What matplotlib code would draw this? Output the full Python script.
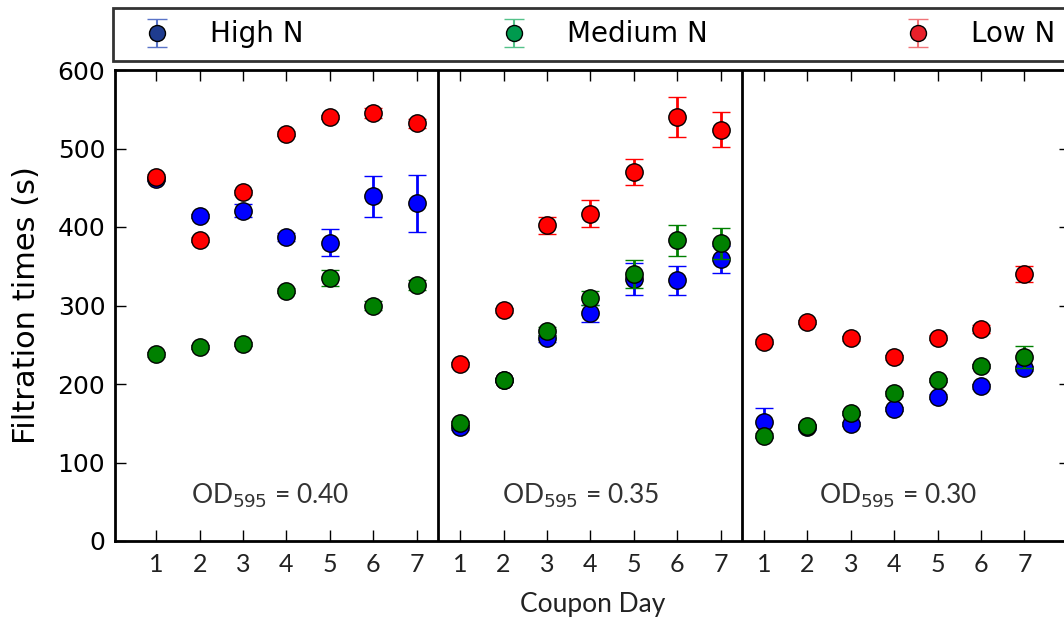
import numpy as np
import matplotlib
matplotlib.use("Agg")
import matplotlib.pyplot as plt

# ---- data ----
days = [1, 2, 3, 4, 5, 6, 7]
panel_labels = [r"OD$_{595}$ = 0.40", r"OD$_{595}$ = 0.35", r"OD$_{595}$ = 0.30"]
series_names = ["High N", "Medium N", "Low N"]

high_p1 = [461, 414, 421, 387, 380, 439, 430]
high_p1_err = [3, 3, 8, 5, 17, 26, 36]
high_p2 = [145, 205, 258, 290, 334, 332, 359]
high_p2_err = [3, 3, 5, 11, 20, 18, 17]
high_p3 = [151, 145, 149, 168, 184, 197, 220]
high_p3_err = [19, 3, 3, 3, 3, 3, 3]

med_p1 = [238, 247, 251, 319, 335, 300, 326]
med_p1_err = [3, 3, 3, 3, 10, 6, 6]
med_p2 = [150, 205, 268, 310, 340, 383, 379]
med_p2_err = [3, 3, 5, 9, 18, 20, 20]
med_p3 = [134, 146, 163, 188, 205, 223, 234]
med_p3_err = [3, 3, 3, 3, 3, 3, 14]

low_p1 = [464, 384, 444, 519, 540, 545, 532]
low_p1_err = [3, 3, 3, 3, 3, 6, 6]
low_p2 = [225, 294, 402, 417, 470, 540, 524]
low_p2_err = [3, 3, 11, 17, 16, 25, 22]
low_p3 = [254, 279, 258, 234, 259, 270, 340]
low_p3_err = [3, 3, 3, 3, 3, 5, 10]

colors = ["#0000ff", "#008000", "#ff0000"]
legend_marker_colors = ["#1f3c8f", "#009a4e", "#e8202a"]
legend_bar_colors = ["#5a74c8", "#55c28a", "#f07478"]

series = [
    [(high_p1, high_p1_err), (high_p2, high_p2_err), (high_p3, high_p3_err)],
    [(med_p1, med_p1_err), (med_p2, med_p2_err), (med_p3, med_p3_err)],
    [(low_p1, low_p1_err), (low_p2, low_p2_err), (low_p3, low_p3_err)],
]

# ---- figure ----
W, H = 1064, 618
fig = plt.figure(figsize=(W / 100, H / 100), dpi=100)
ax = fig.add_axes([115 / W, 77 / H, (1070 - 115) / W, 471 / H])

n = len(days)
for s_idx, panels in enumerate(series):
    for p_idx, (vals, errs) in enumerate(panels):
        x = np.array(days) + p_idx * n
        ax.errorbar(x, vals, yerr=errs, fmt="o", color=colors[s_idx],
                    markerfacecolor=colors[s_idx], markeredgecolor="black",
                    markeredgewidth=1.0, markersize=12.5, elinewidth=2,
                    capsize=6.5, capthick=2, ecolor=colors[s_idx], zorder=3 + s_idx)

# legend proxies
handles = []
for s_idx in range(3):
    h = ax.errorbar([np.nan], [np.nan], yerr=[1], fmt="o",
                    markerfacecolor=legend_marker_colors[s_idx],
                    markeredgecolor="black", markeredgewidth=1.0,
                    markersize=11.5, ecolor=legend_bar_colors[s_idx],
                    elinewidth=1.5, capsize=7, capthick=1.5)
    handles.append(h)

for sep in [n + 0.5, 2 * n + 0.5]:
    ax.axvline(sep, color="black", lw=2, zorder=2)

ax.set_xlim(0.05, 22.05)
ax.set_ylim(0, 600)

ticks = [d + p * n for p in range(3) for d in days]
ax.set_xticks(ticks)
ax.set_xticklabels([str(d) for p in range(3) for d in days])
ax.set_yticks([0, 100, 200, 300, 400, 500, 600])

ax.tick_params(direction="in", top=True, right=True, length=8, width=1)
ax.tick_params(axis="y", labelsize=18, pad=7)
ax.tick_params(axis="x", pad=9)
for lbl in ax.get_xticklabels():
    lbl.set_fontfamily("Lato")
    lbl.set_fontsize(18)
    lbl.set_color("#222222")

for sp in ax.spines.values():
    sp.set_linewidth(2)

ax.set_ylabel("Filtration times (s)", fontsize=22, labelpad=12)
ax.set_xlabel("Coupon Day", fontsize=19, fontfamily="Lato", color="#222222", labelpad=11)

text_x = [3.63, 10.77, 18.1]
for tx, lab in zip(text_x, panel_labels):
    ax.text(tx, 58, lab, ha="center", va="center", fontsize=19,
            fontfamily="Lato", color="#333333")

leg = fig.legend(handles, series_names, loc="upper left",
                 bbox_to_anchor=(113 / W, 1 - 8 / H), ncol=3,
                 fontsize=20, frameon=True, fancybox=False, edgecolor="black",
                 borderaxespad=0, handlelength=2.3, handletextpad=0.75,
                 columnspacing=6.42, borderpad=0.45, numpoints=1)
leg.get_frame().set_linewidth(2)

fig.savefig("out.png", dpi=100)
